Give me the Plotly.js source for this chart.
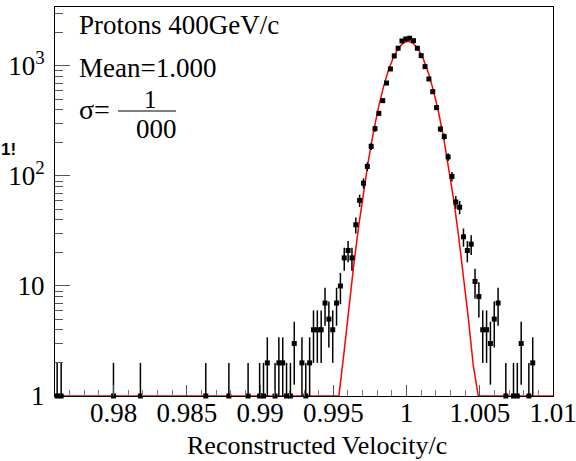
<!DOCTYPE html>
<html>
<head>
<meta charset="utf-8">
<script src="https://cdn.plot.ly/plotly-3.0.1.min.js"></script>
<style>html,body{margin:0;padding:0;background:#fff;}#chart{width:576px;height:461px;}</style>
</head>
<body>
<div id="chart"></div>
<script>
// Histogram bin centres (reconstructed velocity / c) and entries per bin
const binCenters = [
  0.976147, 0.976420, 0.979992, 0.981831, 0.986295, 0.987870, 0.989183, 0.989971,
  0.990234, 0.990496, 0.991022, 0.991284, 0.991547, 0.991809, 0.992072, 0.992335,
  0.992860, 0.993122, 0.993385, 0.993648, 0.993910, 0.994173, 0.994435, 0.994698,
  0.994961, 0.995223, 0.995486, 0.995748, 0.996011, 0.996274, 0.996536, 0.996799,
  0.997061, 0.997324, 0.997587, 0.997849, 0.998112, 0.998374, 0.998637, 0.998900,
  0.999162, 0.999425, 0.999687, 0.999950, 1.000213, 1.000475, 1.000738, 1.001000,
  1.001263, 1.001526, 1.001788, 1.002051, 1.002313, 1.002576, 1.002839, 1.003101,
  1.003364, 1.003626, 1.003889, 1.004152, 1.004414, 1.004677, 1.004939, 1.005202,
  1.005465, 1.005727, 1.005990, 1.006252, 1.006778, 1.007303, 1.007565, 1.007828,
  1.008353, 1.008616
];
const counts = [
  1, 1, 1, 1, 1, 1, 1, 1,
  1, 2, 1, 2, 2, 1, 1, 3,
  2, 1, 2, 4, 4, 4, 7, 5,
  4, 7, 10, 18, 21, 18, 36, 60,
  86, 122, 186, 269, 371, 484, 700, 939,
  1233, 1449, 1687, 1759, 1786, 1698, 1449, 1241,
  986, 762, 584, 418, 267, 228, 149, 99,
  58, 52, 28, 21, 24, 11, 8, 4,
  4, 3, 5, 7, 1, 1, 1, 3,
  1, 2
];
// Gaussian fit parameters
const fitConstant = 1680;
const fitMean = 1.0001;
const fitSigma = 0.00121;
const fitNpx = 100;

// axis settings
const xRange = [0.976, 1.0100001];
const yRange = [0, Math.log10(3435)];
const yMajorVals = [1, 10, 100, 1000];
const yMajorText = ['1', '10', '10<sup>2</sup>', '10<sup>3</sup>'];
const yMinorVals = [2,3,4,5,6,7,8,9,20,30,40,50,60,70,80,90,200,300,400,500,600,700,800,900,2000,3000];
const xTickVals = [0.98, 0.985, 0.99, 0.995, 1, 1.005, 1.01];
const xTickText = ['0.98', '0.985', '0.99', '0.995', '1', '1.005', '1.01'];

// Poisson errors, clipped at the log-axis minimum (1)
const errPlus = counts.map(c => Math.sqrt(c));
const errMinus = counts.map(c => Math.min(Math.sqrt(c), c - 1));

// fitted function sampled like a ROOT TF1
const fx = [], fy = [];
for (let i = 0; i <= fitNpx; i++) {
  const x = 0.976 + (1.01 - 0.976) * i / fitNpx;
  const v = fitConstant * Math.exp(-0.5 * Math.pow((x - fitMean) / fitSigma, 2));
  fx.push(x); fy.push(Math.max(1, v));
}

const serif = '"Liberation Serif", "Times New Roman", serif';

const traces = [
  {
    x: fx, y: fy, type: 'scatter', mode: 'lines',
    line: {color: '#ff0000', width: 1.5},
    cliponaxis: false, hoverinfo: 'skip', showlegend: false
  },
  {
    x: binCenters, y: counts, type: 'scatter', mode: 'markers',
    marker: {symbol: 'square', size: 5, color: '#000000'},
    error_y: {type: 'data', symmetric: false, array: errPlus, arrayminus: errMinus,
              color: '#000000', thickness: 1.5, width: 0},
    cliponaxis: false, showlegend: false
  },
  {
    x: [1], y: [100], yaxis: 'y2', type: 'scatter', mode: 'markers',
    marker: {opacity: 0}, hoverinfo: 'skip', showlegend: false
  }
];

// pixel -> paper helpers (plot area 55..553 x 7..396)
const L = 55, R = 553, T = 7, B = 396;
const px = p => (p - L) / (R - L);
const py = p => (B - p) / (B - T);

function ann(text, x, y, size, xanchor) {
  return {text: text, xref: 'paper', yref: 'paper', x: px(x), y: py(y),
          xanchor: xanchor || 'left', yanchor: 'middle', showarrow: false,
          font: {family: serif, size: size, color: '#000'}};
}

const layout = {
  width: 576, height: 461,
  margin: {l: L, r: 576 - R, t: T, b: 461 - B, pad: 0},
  paper_bgcolor: '#ffffff', plot_bgcolor: '#ffffff',
  showlegend: false,
  font: {family: serif, size: 26, color: '#000'},
  xaxis: {
    range: xRange, showgrid: false, zeroline: false,
    showline: true, linecolor: '#000', linewidth: 1, mirror: true,
    ticks: 'inside', ticklen: 11, tickcolor: '#555', tickwidth: 1,
    tickvals: xTickVals, ticktext: xTickText,
    tickfont: {family: serif, size: 27, color: '#000'},
    ticklabelstandoff: -7, ticklabeloverflow: 'allow',
    minor: {ticks: 'inside', ticklen: 6, dtick: 0.001, tick0: 0.98, tickcolor: '#777', tickwidth: 1}
  },
  yaxis: {
    type: 'log', range: yRange, showgrid: false, zeroline: false,
    showline: true, linecolor: '#000', linewidth: 1, mirror: true,
    ticks: 'inside', ticklen: 15, tickcolor: '#555', tickwidth: 1,
    tickvals: yMajorVals, ticktext: yMajorText,
    tickfont: {family: serif, size: 27, color: '#000'},
    ticklabelstandoff: 4
  },
  yaxis2: {
    type: 'log', range: yRange, overlaying: 'y', side: 'left', anchor: 'x',
    showgrid: false, zeroline: false, showline: false,
    ticks: 'inside', ticklen: 8, tickcolor: '#555', tickwidth: 1,
    tickvals: yMinorVals, showticklabels: false
  },
  shapes: [
    {type: 'line', xref: 'paper', yref: 'paper', x0: px(118), x1: px(176), y0: py(111), y1: py(111),
     line: {color: '#000', width: 1}}
  ],
  annotations: [
    ann('Protons 400GeV/c', 77, 25, 27),
    ann('Mean=1.000', 77, 68, 27),
    ann('σ=', 77, 110, 28),
    ann('1', 150, 99, 25, 'center'),
    ann('000', 156, 129, 27, 'center'),
    ann('Reconstructed Velocity/c', 317, 445, 26, 'center'),
    {text: '<b>1!</b>', xref: 'paper', yref: 'paper', x: px(-1), y: py(149), xanchor: 'left', yanchor: 'middle',
     showarrow: false, font: {family: '"Liberation Sans", Arial, sans-serif', size: 17, color: '#000'}}
  ]
};

Plotly.newPlot('chart', traces, layout, {staticPlot: true, displayModeBar: false});
</script>
</body>
</html>
